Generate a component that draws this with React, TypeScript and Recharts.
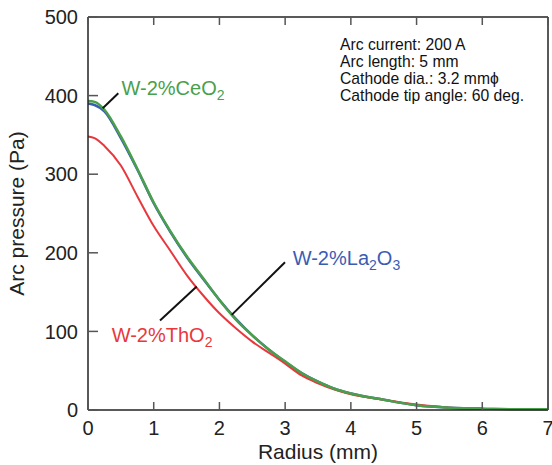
import { LineChart, Line, XAxis, YAxis, ReferenceLine, ReferenceDot } from 'recharts';

// radius (mm) and arc pressure (Pa) for the three cathodes
const radius = [0, 0.1, 0.25, 0.5, 0.75, 1, 1.25, 1.5, 1.75, 2, 2.25, 2.5, 2.75, 3, 3.25, 3.5, 3.75, 4, 4.5, 5, 5.5, 6, 6.5, 7];
const ceO2 = [393, 392, 382, 348, 307, 264, 228, 196, 168, 140, 115, 95, 77, 62, 47, 36, 27, 21, 13, 6, 3, 2, 1, 1];
const la2O3 = [390, 388, 380, 346, 306, 263, 227, 195, 167, 140, 116, 95, 77, 61, 47, 36, 27, 21, 13, 6, 3, 2, null, null];
const thO2 = [348, 346, 336, 311, 272, 234, 203, 172, 146, 123, 104, 87, 73, 59, 44, 34, 26, 20, 13, 7, 3, 1.5, null, null];

const xTicks = [0, 1, 2, 3, 4, 5, 6, 7];
const yTicks = [0, 100, 200, 300, 400, 500];
const conditions = ['Arc current: 200 A', 'Arc length: 5 mm', 'Cathode dia.: 3.2 mm\u03d5', 'Cathode tip angle: 60 deg.'];

const data = radius.map((r, i) => ({ r, ceO2: ceO2[i], la2O3: la2O3[i], thO2: thO2[i] }));

const FONT = '"Liberation Sans", Arial, sans-serif';
const GREEN = '#4a9f4c';
const BLUE = '#3a5db4';
const RED = '#e8383d';
const TICK = '#555';
const AXIS = { stroke: '#222', strokeWidth: 1.5 };

const X_GAP = 11;
const Y_GAP = 10;

// ticks point into the plot, so draw the little lines ourselves
const BottomTick = ({ x, y, payload }: any) => (
  <g>
    <line x1={x} x2={x} y1={y - X_GAP} y2={y - X_GAP - 8} stroke={TICK} strokeWidth={1.5} />
    <text x={x} y={y} dy="0.71em" textAnchor="middle" fill="#222" fontSize={20} fontFamily={FONT}>
      {payload.value}
    </text>
  </g>
);
const LeftTick = ({ x, y, payload }: any) => (
  <g>
    <line x1={x + Y_GAP} x2={x + Y_GAP + 10} y1={y} y2={y} stroke={TICK} strokeWidth={1.5} />
    <text x={x} y={y} dy="0.355em" textAnchor="end" fill="#222" fontSize={20} fontFamily={FONT}>
      {payload.value}
    </text>
  </g>
);
const TopTick = ({ x, y }: any) => <line x1={x} x2={x} y1={y} y2={y + 8} stroke={TICK} strokeWidth={1.5} />;
const RightTick = ({ x, y }: any) => <line x1={x} x2={x - 10} y1={y} y2={y} stroke={TICK} strokeWidth={1.5} />;

function chemLabel(parts: [string, string][], color: string) {
  return ({ viewBox }: any) => {
    let shift = 0;
    return (
      <text x={viewBox.x} y={viewBox.y} fill={color} fontSize={20} fontFamily={FONT}>
        {parts.map(([txt, kind], i) => {
          const want = kind === 'sub' ? 5 : 0;
          const dy = want - shift;
          shift = want;
          return (
            <tspan key={i} dy={dy} fontSize={kind === 'sub' ? 14 : 20}>
              {txt}
            </tspan>
          );
        })}
      </text>
    );
  };
}

const conditionsLabel = ({ viewBox }: any) => (
  <text x={viewBox.x} y={viewBox.y} fill="#111" fontSize={15.7} fontFamily={FONT}>
    {conditions.map((c, i) => (
      <tspan key={i} x={viewBox.x} dy={i === 0 ? 0 : 17}>
        {c}
      </tspan>
    ))}
  </text>
);

export default function App() {
  return (
    <div style={{ position: 'absolute', left: 0, top: 0, background: '#fff' }}>
      <LineChart width={552} height={465} data={data} margin={{ top: 16, right: 3, bottom: 0, left: 0 }}>
        <XAxis
          dataKey="r"
          type="number"
          domain={[0, 7]}
          ticks={xTicks}
          interval={0}
          tickSize={0}
          tickMargin={X_GAP}
          tickLine={false}
          height={55}
          axisLine={AXIS}
          tick={<BottomTick />}
          label={{ value: 'Radius (mm)', position: 'insideBottom', offset: 6, fill: '#222', fontSize: 21, fontFamily: FONT }}
        />
        <XAxis
          xAxisId="top"
          dataKey="r"
          type="number"
          orientation="top"
          domain={[0, 7]}
          ticks={xTicks}
          interval={0}
          tickSize={0}
          tickMargin={0}
          tickLine={false}
          height={1}
          axisLine={AXIS}
          tick={<TopTick />}
        />
        <YAxis
          type="number"
          domain={[0, 500]}
          ticks={yTicks}
          interval={0}
          width={88}
          tickSize={0}
          tickMargin={Y_GAP}
          tickLine={false}
          axisLine={AXIS}
          tick={<LeftTick />}
          label={{ value: 'Arc pressure (Pa)', angle: -90, position: 'insideLeft', offset: 17, style: { textAnchor: 'middle' }, fill: '#222', fontSize: 21, fontFamily: FONT }}
        />
        <YAxis
          yAxisId="right"
          orientation="right"
          type="number"
          domain={[0, 500]}
          ticks={yTicks}
          interval={0}
          width={1}
          tickSize={0}
          tickMargin={0}
          tickLine={false}
          axisLine={AXIS}
          tick={<RightTick />}
        />
        <Line type="monotone" dataKey="la2O3" stroke={BLUE} strokeWidth={2.5} dot={false} isAnimationActive={false} />
        <Line type="monotone" dataKey="thO2" stroke={RED} strokeWidth={2} dot={false} isAnimationActive={false} />
        <Line type="monotone" dataKey="ceO2" stroke={GREEN} strokeWidth={2.5} dot={false} isAnimationActive={false} />

        <ReferenceLine segment={[{ x: 0.461, y: 403 }, { x: 0.224, y: 384 }]} stroke="#111" strokeWidth={2} />
        <ReferenceLine segment={[{ x: 2.998, y: 188 }, { x: 2.187, y: 121 }]} stroke="#111" strokeWidth={2} />
        <ReferenceLine segment={[{ x: 1.654, y: 157 }, { x: 1.096, y: 114 }]} stroke="#111" strokeWidth={2} />

        <ReferenceDot x={0.51} y={401} r={0} label={{ content: chemLabel([['W-2%CeO', 'n'], ['2', 'sub']], GREEN) }} />
        <ReferenceDot x={3.115} y={185} r={0} label={{ content: chemLabel([['W-2%La', 'n'], ['2', 'sub'], ['O', 'n'], ['3', 'sub']], BLUE) }} />
        <ReferenceDot x={0.36} y={87} r={0} label={{ content: chemLabel([['W-2%ThO', 'n'], ['2', 'sub']], RED) }} />
        <ReferenceDot x={3.835} y={458} r={0} label={{ content: conditionsLabel }} />
      </LineChart>
    </div>
  );
}
